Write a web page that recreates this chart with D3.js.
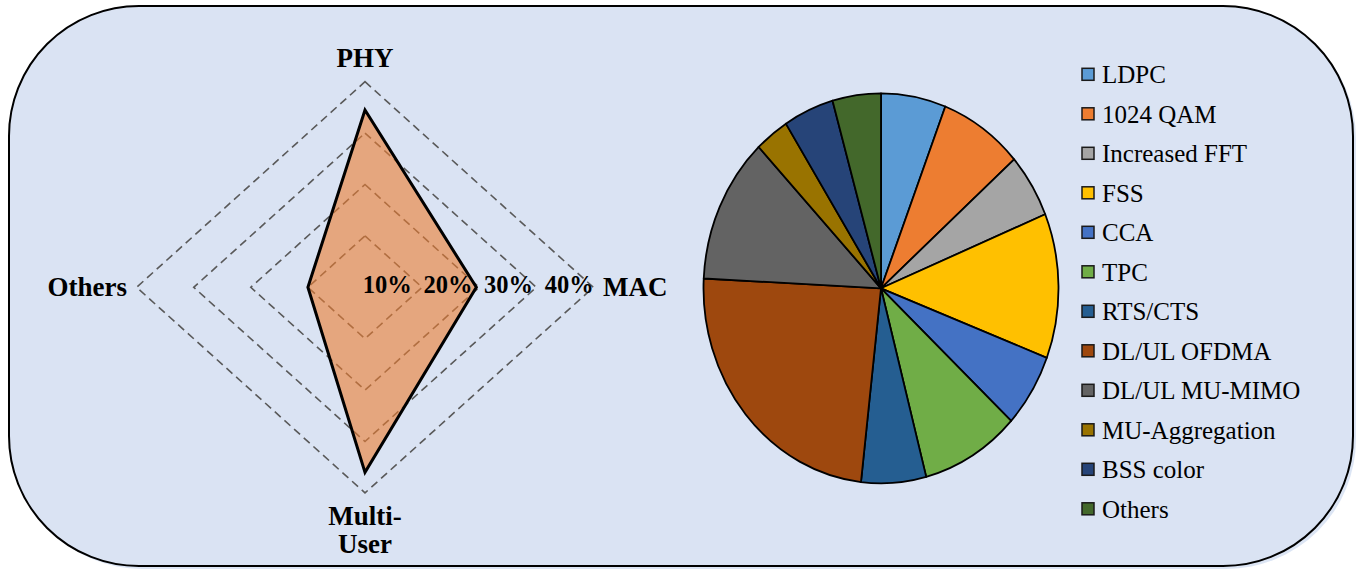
<!DOCTYPE html>
<html>
<head>
<meta charset="utf-8">
<script src="https://cdn.jsdelivr.net/npm/d3@7"></script>
<style>
html,body{margin:0;padding:0;background:#ffffff;}
svg{display:block;}
text{font-family:"Liberation Serif","Times New Roman",Times,"DejaVu Serif",serif;}
</style>
</head>
<body>
<svg id="chart" width="1356" height="570"></svg>
<script>
// ---- Radar data ----
const radarAxes = ["PHY", "MAC", "Multi-User", "Others"];
const radarValues = [34.5, 19.5, 36, 10];
const radarTicks = [10, 20, 30, 40];
const radarTickLabels = ["10%", "20%", "30%", "40%"];

// ---- Pie data ----
const pieCategories = ["LDPC", "1024 QAM", "Increased FFT", "FSS", "CCA", "TPC", "RTS/CTS",
  "DL/UL OFDMA", "DL/UL MU-MIMO", "MU-Aggregation", "BSS color", "Others"];
const pieValues = [5.9, 7.6, 5.3, 12.0, 6.1, 9.0, 5.9, 24.0, 12.1, 3.1, 4.6, 4.4];
const pieColors = ["#5b9bd5", "#ed7d31", "#a5a5a5", "#ffc000", "#4472c4", "#70ad47", "#255e91",
  "#9e480e", "#636363", "#997300", "#264478", "#43682b"];

const svg = d3.select("#chart");

// background panel
svg.append("rect").attr("x", 12).attr("y", 9).attr("width", 1344).attr("height", 560)
  .attr("rx", 130).attr("ry", 130).attr("fill", "#c5d3ec").attr("opacity", 0.6);
svg.append("rect").attr("x", 9).attr("y", 6).attr("width", 1344).attr("height", 560)
  .attr("rx", 130).attr("ry", 130).attr("fill", "#dae3f3")
  .attr("stroke", "#000").attr("stroke-width", 2);

// ---- Radar ----
const cx = 365, cy = 287.3;
const rX = d3.scaleLinear().domain([0, 40]).range([0, 228.4]);
const rY = d3.scaleLinear().domain([0, 40]).range([0, 205.6]);
const dirs = [[0, -1], [1, 0], [0, 1], [-1, 0]];
const pt = (v, i) => [cx + dirs[i][0] * rX(v), cy + dirs[i][1] * rY(v)];
const line = d3.line().curve(d3.curveLinearClosed);

const radar = svg.append("g");
radarTicks.forEach(t => {
  radar.append("path")
    .attr("d", line(dirs.map((d, i) => pt(t, i))))
    .attr("fill", "none").attr("stroke", "#595959")
    .attr("stroke-width", 1.6).attr("stroke-dasharray", "8,5");
});
radar.append("path")
  .attr("d", line(radarValues.map((v, i) => pt(v, i))))
  .attr("fill", "#ed7d31").attr("fill-opacity", 0.6)
  .attr("stroke", "#000").attr("stroke-width", 3).attr("stroke-linejoin", "miter");

radarTicks.forEach((t, k) => {
  radar.append("text")
    .attr("x", cx + rX(t) * 1.063 - 63)
    .attr("y", 293)
    .attr("font-weight", "bold").attr("font-size", 24.5)
    .attr("fill", "#000")
    .text(radarTickLabels[k]);
});
radar.append("text").attr("x", cx).attr("y", 67).attr("text-anchor", "middle")
  .attr("font-weight", "bold").attr("font-size", 27).text(radarAxes[0]);
radar.append("text").attr("x", 603).attr("y", 296).attr("text-anchor", "start")
  .attr("font-weight", "bold").attr("font-size", 27).text(radarAxes[1]);
const mu = radar.append("text").attr("text-anchor", "middle")
  .attr("font-weight", "bold").attr("font-size", 27);
mu.append("tspan").attr("x", cx).attr("y", 525).text("Multi-");
mu.append("tspan").attr("x", cx).attr("y", 553).text("User");
radar.append("text").attr("x", 127).attr("y", 296).attr("text-anchor", "end")
  .attr("font-weight", "bold").attr("font-size", 27).text(radarAxes[3]);

// ---- Pie ----
const pcx = 881, pcy = 288.3, pry = 195, prx = 177.5;
const pie = d3.pie().sort(null).value(d => d);
const arc = d3.arc().innerRadius(0).outerRadius(pry);
const pg = svg.append("g").attr("transform", `translate(${pcx},${pcy}) scale(${prx / pry},1)`);
pg.selectAll("path").data(pie(pieValues)).join("path")
  .attr("d", arc)
  .attr("fill", (d, i) => pieColors[i])
  .attr("stroke", "#000").attr("stroke-width", 1.8)
  .attr("vector-effect", "non-scaling-stroke")
  .attr("stroke-linejoin", "round");

// ---- Legend ----
const lg = svg.append("g");
pieCategories.forEach((c, i) => {
  const by = 83.3 + i * 39.5;
  lg.append("rect").attr("x", 1082).attr("y", by - 15).attr("width", 12).attr("height", 12)
    .attr("fill", pieColors[i]).attr("stroke", "#1a1a1a").attr("stroke-width", 1.5);
  lg.append("text").attr("x", 1102).attr("y", by)
    .attr("font-size", 25).attr("fill", "#000").text(c);
});
</script>
</body>
</html>
